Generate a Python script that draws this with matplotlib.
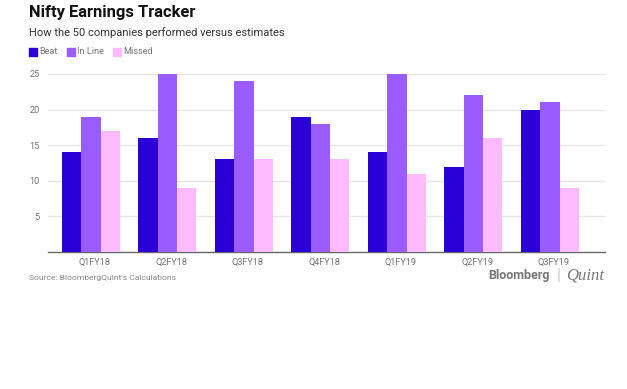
import matplotlib
matplotlib.use("Agg")
import matplotlib.pyplot as plt
import numpy as np
from matplotlib.patches import Rectangle

plt.rcParams['font.family'] = ['Roboto', 'DejaVu Sans']

quarters = ["Q1FY18", "Q2FY18", "Q3FY18", "Q4FY18", "Q1FY19", "Q2FY19", "Q3FY19"]
beat = [14, 16, 13, 19, 14, 12, 20]
in_line = [19, 25, 24, 18, 25, 22, 21]
missed = [17, 9, 13, 13, 11, 16, 9]
series_names = ["Beat", "In Line", "Missed"]
colors = ["#2a00d6", "#9b5cff", "#ffbbff"]
yticks = [5, 10, 15, 20, 25]

W, H = 627, 389
fig = plt.figure(figsize=(W/100, H/100), dpi=100)
ax = fig.add_axes([48/W, 1-252/H, (605-48)/W, (252-74)/H])

x = np.arange(len(quarters))
bw = 0.253
for i, (vals, c) in enumerate(zip([beat, in_line, missed], colors)):
    ax.bar(x + (i-1)*bw, vals, width=bw, color=c, zorder=3)

ax.set_ylim(0, 25)
ax.set_xlim(-0.56, 6.72)
ax.set_yticks(yticks)
ax.yaxis.grid(True, color="#e6e6e6", linewidth=1, zorder=0)
ax.set_xticks(x + 0.05)
ax.set_xticklabels(quarters)
ax.tick_params(axis='both', length=0, labelsize=6.6, colors="#757575")
ax.tick_params(axis='x', pad=4)
ax.tick_params(axis='y', pad=6)
for s in ["top", "right", "left"]:
    ax.spines[s].set_visible(False)
ax.spines["bottom"].set_color("#666666")
ax.spines["bottom"].set_linewidth(1)

fig.text(29/W, 1-12/H, "Nifty Earnings Tracker", fontsize=11.9, fontweight="bold",
         color="#111111", va="center", ha="left")
fig.text(29/W, 1-33/H, "How the 50 companies performed versus estimates", fontsize=8,
         color="#333333", va="center", ha="left")

# legend
lx = 29
for name, c, off in zip(series_names, colors, [0, 38, 84]):
    fig.patches.append(Rectangle(((lx+off)/W, 1-56/H), 8/W, 8/H, color=c,
                                 transform=fig.transFigure, figure=fig))
    fig.text((lx+off+10)/W, 1-52/H, name, fontsize=6.6, color="#777777", va="center", ha="left")

fig.text(29/W, 1-278/H, "Source: BloombergQuint's Calculations", fontsize=6.1,
         color="#888888", va="center", ha="left")
fig.text(550/W, 1-276/H, "Bloomberg", fontsize=9, fontweight="bold", color="#777777",
         va="center", ha="right")
fig.text(559/W, 1-276/H, "|", fontsize=12, color="#cccccc", va="center", ha="center")
fig.text(566/W, 1-276/H, "Quint", fontsize=12, fontstyle="italic", family="Liberation Serif",
         color="#777777", va="center", ha="left")

fig.savefig("out.png", dpi=100, facecolor="white")
